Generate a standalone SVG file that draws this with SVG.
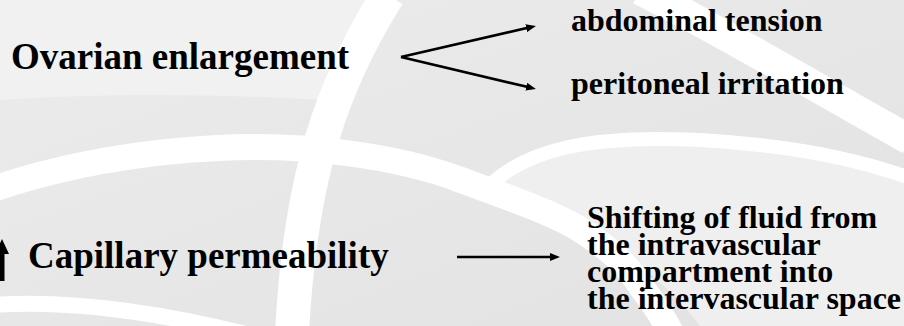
<svg xmlns="http://www.w3.org/2000/svg" width="904" height="326" viewBox="0 0 904 326">
<defs>
<style>
.t{font-family:"Liberation Serif","Times New Roman",serif;font-weight:bold;fill:#000}
.big{font-size:37px}
.med{font-size:32px}
.c{stroke:#000;stroke-width:2.6;fill:none}
.band{fill:none;stroke:#fff}
</style>
<marker id="ah" viewBox="0 0 10 8" refX="4" refY="4" markerWidth="10" markerHeight="8" markerUnits="userSpaceOnUse" orient="auto">
<path d="M0 0 L10 4 L0 8 z" fill="#000"/>
</marker>
<linearGradient id="bg" x1="0" y1="0" x2="1" y2="1">
<stop offset="0" stop-color="#ececec"/>
<stop offset="1" stop-color="#e2e2e2"/>
</linearGradient>
</defs>
<g id="background">
<rect width="904" height="326" fill="url(#bg)"/>
<path d="M0 0 H370 C350 40 335 75 325 100 C230 95 120 92 0 100 Z" fill="#f1f1f1"/>
<path d="M480 195 C520 150 600 135 700 140 C790 145 860 160 904 175 V326 H700 C650 260 580 220 480 195 Z" fill="#efefef"/>
<path class="band" stroke-width="34" d="M388 -5 C335 80 300 170 292 335"/>
<path class="band" stroke-width="26" d="M-10 190 C100 152 240 138 346 153 C400 160 440 172 461 180 C510 198 550 212 576 227 C605 245 625 262 640 285 C655 305 665 320 672 335"/>
<path class="band" stroke-width="14" d="M478 198 C520 145 600 135 700 140 C790 145 860 160 910 178"/>
<path class="band" stroke-width="30" d="M640 -10 C720 30 820 90 910 140"/>
<path class="band" stroke-width="16" d="M-10 305 C60 300 150 310 250 335"/>
</g>
<g id="connectors">
<line class="c" x1="401" y1="57" x2="530.1" y2="27.3" marker-end="url(#ah)"/>
<line class="c" x1="401" y1="57" x2="530.1" y2="87.6" marker-end="url(#ah)"/>
<line class="c" x1="457" y1="257" x2="554" y2="257" marker-end="url(#ah)"/>
</g>
<g id="ovarian"><text class="t big" x="11" y="69">Ovarian enlargement</text></g>
<g id="abdominal"><text class="t med" x="571" y="31">abdominal tension</text></g>
<g id="peritoneal"><text class="t med" x="571" y="94">peritoneal irritation</text></g>
<g id="capillary">
<polygon points="2,239 9,254 4.5,254 4.5,281 -0.5,281 -0.5,254 -5,254" fill="#000"/>
<text class="t big" x="28" y="268">Capillary permeability</text>
</g>
<g id="shifting">
<text class="t med" x="587"><tspan x="587" y="228">Shifting of fluid from</tspan><tspan x="587" y="255">the intravascular</tspan><tspan x="587" y="282">compartment into</tspan><tspan x="587" y="309">the intervascular space</tspan></text>
</g>
</svg>
